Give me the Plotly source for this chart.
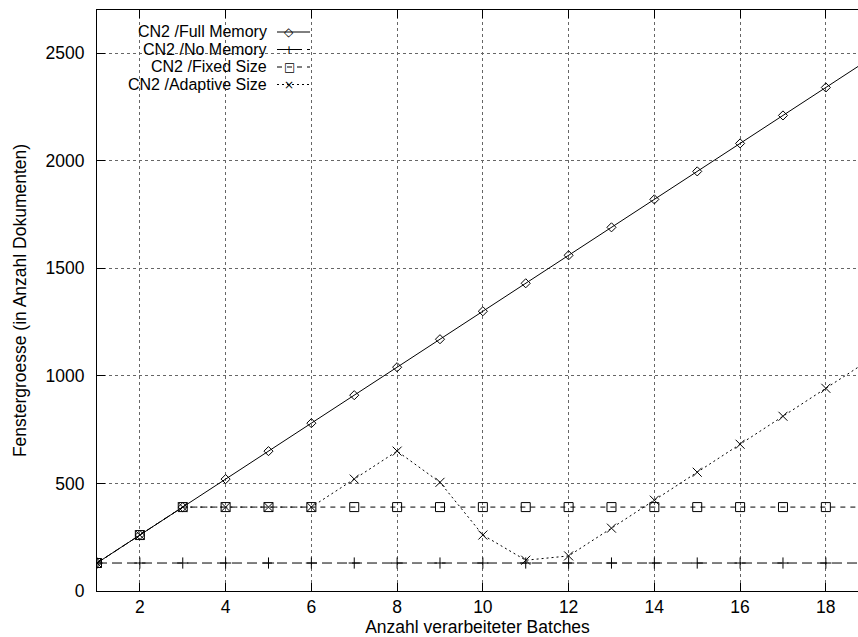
import plotly.graph_objects as go

batches = list(range(1, 20))
full_memory = [130 * i for i in batches]
no_memory = [130] * 19
fixed_size = [130, 260, 390] + [390] * 16
adaptive_size = [130, 260, 390, 390, 390, 390, 520, 650, 505, 260, 143, 163,
                 292, 422, 552, 682, 812, 942, 1072]

series_names = ["CN2 /Full Memory", "CN2 /No Memory", "CN2 /Fixed Size", "CN2 /Adaptive Size"]
series_values = [full_memory, no_memory, fixed_size, adaptive_size]
dashes = ["solid", "10px,5px", "5px,5px", "2px,3px"]
symbols = ["diamond-open", "cross-thin-open", "square-open", "x-thin-open"]
sizes = [7, 8, 9, 9]
legend_glyphs = ["◇", "+", "□", "×"]

x_ticks = list(range(2, 19, 2))
y_ticks = [0, 500, 1000, 1500, 2000, 2500]

FS = 17.5
LFS = 16
FONT = "Liberation Sans, Arial, sans-serif"

fig = go.Figure()
for name, vals, d, s, sz in zip(series_names, series_values, dashes, symbols, sizes):
    fig.add_trace(go.Scatter(
        x=batches, y=vals, name=name, mode="lines+markers",
        line=dict(color="black", width=1, dash=d),
        marker=dict(symbol=s, size=sz, color="black", line=dict(color="black", width=1)),
        showlegend=False, cliponaxis=True,
    ))

# manual gnuplot-style legend (text right-aligned, sample on the right)
legend_y = [32, 49.5, 67, 84.5]
W = 858.0
for name, d, g, ly in zip(series_names, dashes, legend_glyphs, legend_y):
    yp = 1 - (ly - 10) / (591 - 10)
    fig.add_annotation(xref="paper", yref="paper", x=(268 - 97) / (W - 97), y=yp,
                       text=name, showarrow=False, xanchor="right", yanchor="middle",
                       borderpad=0, font=dict(family=FONT, size=LFS, color="black"))
    fig.add_shape(type="line", xref="paper", yref="paper",
                  x0=(277 - 97) / (W - 97), x1=(310 - 97) / (W - 97), y0=yp, y1=yp,
                  line=dict(color="black", width=1, dash=d))
    fig.add_annotation(xref="paper", yref="paper", x=(289 - 97) / (W - 97), y=yp,
                       text=g, showarrow=False, xanchor="center", yanchor="middle",
                       borderpad=0, font=dict(family="DejaVu Sans", size=12, color="black"))

fig.update_layout(
    width=858, height=637,
    margin=dict(l=97, r=0, t=10, b=46),
    paper_bgcolor="white", plot_bgcolor="white",
    font=dict(family=FONT, size=FS, color="black"),
    xaxis=dict(
        range=[1, 18.75], tickvals=x_ticks, ticktext=[str(v) for v in x_ticks],
        showgrid=True, gridcolor="#666", griddash="dot", gridwidth=1,
        showline=True, linecolor="black", linewidth=1, mirror="ticks",
        ticks="inside", ticklen=8, tickcolor="black", zeroline=False,
        tickfont=dict(size=FS), ticklabelstandoff=0,
        title=dict(text="Anzahl verarbeiteter Batches", standoff=0, font=dict(size=FS)),
    ),
    yaxis=dict(
        range=[0, 2700], tickvals=y_ticks, ticktext=[str(v) for v in y_ticks],
        showgrid=True, gridcolor="#666", griddash="dot", gridwidth=1,
        showline=True, linecolor="black", linewidth=1,
        ticks="inside", ticklen=8, tickcolor="black", zeroline=False,
        tickfont=dict(size=FS), ticklabelstandoff=8,
        title=dict(text="Fenstergroesse (in Anzahl Dokumenten)", standoff=14, font=dict(size=FS)),
    ),
)

fig.write_html("out.html")
